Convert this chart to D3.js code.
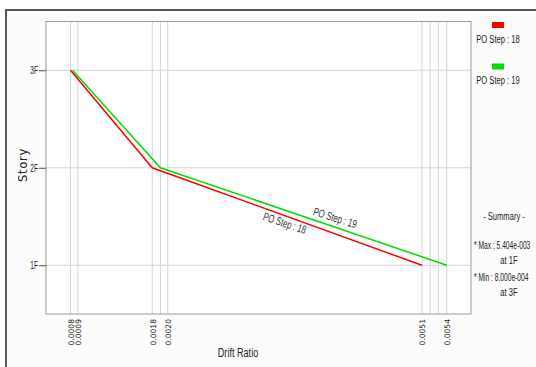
<!DOCTYPE html>
<html>
<head>
<meta charset="utf-8">
<script src="https://cdn.jsdelivr.net/npm/d3@7/dist/d3.min.js"></script>
<style>
  html, body { margin: 0; padding: 0; background: #fff; }
  svg { display: block; }
</style>
</head>
<body>
<svg id="chart" width="536" height="367"></svg>
<script>
// Story drift ratio per floor for two pushover steps
const stories = ["1F", "2F", "3F"];
const storyLevels = [1, 2, 3];
const step18 = [0.0051, 0.0018, 0.0008];
const step19 = [0.005404, 0.0019, 0.000825];
const seriesNames = ["PO Step : 18", "PO Step : 19"];
const seriesColors = ["#ff0000", "#00dd00"];

// labelled drift values on the x axis, plus unlabelled reference lines
const xTickValues = [0.0008, 0.00089, 0.0018, 0.00199, 0.0051, 0.005404];
const xExtraGrid = [0.0019, 0.0052, 0.0053];

const summaryLines = ["- Summary -", "* Max : 5.404e-003", "at  1F", "* Min : 8.000e-004", "at 3F"];

const svg = d3.select("#chart");
const W = 536, H = 367;
const FONT = "'Liberation Sans', Arial, sans-serif";

// condensed text: a group that is positioned, optionally rotated, then squeezed in x
function label(parent, str, opt) {
  const g = parent.append("g")
    .attr("transform", `translate(${opt.x},${opt.y}) rotate(${opt.rotate || 0}) scale(${opt.squeeze || 0.7},1)`);
  return g.append("text")
    .attr("y", opt.dy || 0)
    .attr("text-anchor", opt.anchor || "middle")
    .attr("font-family", FONT)
    .attr("font-size", opt.size || 11)
    .attr("fill", opt.fill || "#222")
    .text(str);
}

// outer panel
svg.append("rect").attr("x", 6).attr("y", 10).attr("width", W).attr("height", H)
  .attr("fill", "#fcfcfc");
svg.append("path").attr("d", `M6,${H} L6,10 L${W},10`)
  .attr("fill", "none").attr("stroke", "#555").attr("stroke-width", 2);

const plot = { left: 46, right: 471, top: 21.5, bottom: 314 };

const x = d3.scaleLinear().domain([0.0005, 0.0057]).range([plot.left, plot.right]);
const y = d3.scaleLinear().domain([0.5, 3.5]).range([plot.bottom, plot.top]);

svg.append("rect")
  .attr("x", plot.left).attr("y", plot.top)
  .attr("width", plot.right - plot.left).attr("height", plot.bottom - plot.top)
  .attr("fill", "#ffffff");

// grid
const grid = svg.append("g");
grid.selectAll("line.v")
  .data(xTickValues.concat(xExtraGrid))
  .join("line")
  .attr("x1", d => x(d)).attr("x2", d => x(d))
  .attr("y1", plot.top).attr("y2", plot.bottom)
  .attr("stroke", "#d4d4d4").attr("stroke-width", 1);
grid.selectAll("line.h")
  .data(storyLevels)
  .join("line")
  .attr("x1", plot.left).attr("x2", plot.right)
  .attr("y1", d => y(d)).attr("y2", d => y(d))
  .attr("stroke", "#d4d4d4").attr("stroke-width", 1);

// plot border
svg.append("rect")
  .attr("x", plot.left).attr("y", plot.top)
  .attr("width", plot.right - plot.left).attr("height", plot.bottom - plot.top)
  .attr("fill", "none").attr("stroke", "#999").attr("stroke-width", 1);

// y axis: tick marks from d3, condensed labels placed at the same positions
const yAxis = d3.axisLeft(y)
  .tickValues(storyLevels)
  .tickFormat("")
  .tickSize(7);
const gy = svg.append("g").attr("transform", `translate(${plot.left},0)`).call(yAxis);
gy.select(".domain").remove();
gy.selectAll(".tick line").attr("stroke", "#555");
storyLevels.forEach((lv, i) => {
  label(svg, stories[i], { x: plot.left - 8, y: y(lv), dy: "0.36em", anchor: "end", size: 11, squeeze: 0.6 });
});

// x axis with vertical labels
const xAxis = d3.axisBottom(x)
  .tickValues(xTickValues)
  .tickFormat(d3.format(".4f"))
  .tickSize(0);
const gx = svg.append("g").attr("transform", `translate(0,${plot.bottom})`).call(xAxis);
gx.select(".domain").remove();
gx.selectAll(".tick text")
  .attr("font-family", "DejaVu Sans, sans-serif")
  .attr("font-size", 7.6)
  .attr("fill", "#222")
  .attr("text-anchor", "end")
  .attr("dy", "0.36em")
  .attr("transform", "translate(0,5) rotate(-90)")
  .attr("y", 0).attr("x", 0)
  .attr("textLength", 26.5).attr("lengthAdjust", "spacingAndGlyphs");

// axis titles
label(svg, "Drift Ratio", { x: 238, y: 357, size: 13, squeeze: 0.7 });
svg.append("text")
  .attr("transform", "translate(26.5,165) rotate(-90)")
  .attr("text-anchor", "middle")
  .attr("font-family", "DejaVu Sans, sans-serif")
  .attr("font-size", 11.5).attr("letter-spacing", 0.7).attr("fill", "#222")
  .text("Story");

// series lines
const series = [step18, step19];
const line = d3.line().x(d => x(d[0])).y(d => y(d[1]));
series.forEach((vals, i) => {
  const pts = vals.map((v, k) => [v, storyLevels[k]]);
  svg.append("path")
    .attr("d", line(pts))
    .attr("fill", "none")
    .attr("stroke", seriesColors[i])
    .attr("stroke-width", 1.5);
});

// in-line labels on the 1F-2F segment
const labelSpec = [
  { t: 0.5, off: 7 },    // below the line
  { t: 0.6, off: -9 }    // above the line
];
series.forEach((vals, i) => {
  const x0 = x(vals[1]), y0 = y(storyLevels[1]);
  const x1 = x(vals[0]), y1 = y(storyLevels[0]);
  const ang = Math.atan2(y1 - y0, x1 - x0) * 180 / Math.PI;
  const rad = ang * Math.PI / 180;
  const off = labelSpec[i].off;
  const px = x0 + (x1 - x0) * labelSpec[i].t - Math.sin(rad) * off;
  const py = y0 + (y1 - y0) * labelSpec[i].t + Math.cos(rad) * off;
  label(svg, seriesNames[i], { x: px, y: py, rotate: ang - 1.5, dy: "0.35em", size: 11.5, squeeze: 0.68, fill: "#333" });
});

// legend
seriesNames.forEach((name, i) => {
  const ly = 22 + i * 41.5;
  svg.append("rect").attr("x", 492).attr("y", ly).attr("width", 12).attr("height", 6)
    .attr("fill", seriesColors[i]);
  label(svg, name, { x: 498, y: ly + 20.5, size: 11.5, squeeze: 0.66 });
});

// summary block
const summaryPos = [
  { x: 504, y: 220, a: "middle", s: 0.66 },
  { x: 474, y: 249, a: "start", s: 0.58 },
  { x: 509, y: 264, a: "middle", s: 0.66 },
  { x: 474, y: 281, a: "start", s: 0.58 },
  { x: 509, y: 296, a: "middle", s: 0.66 }
];
summaryLines.forEach((s, i) => {
  const p = summaryPos[i];
  label(svg, s, { x: p.x, y: p.y, anchor: p.a, size: 11.5, squeeze: p.s });
});
</script>
</body>
</html>
